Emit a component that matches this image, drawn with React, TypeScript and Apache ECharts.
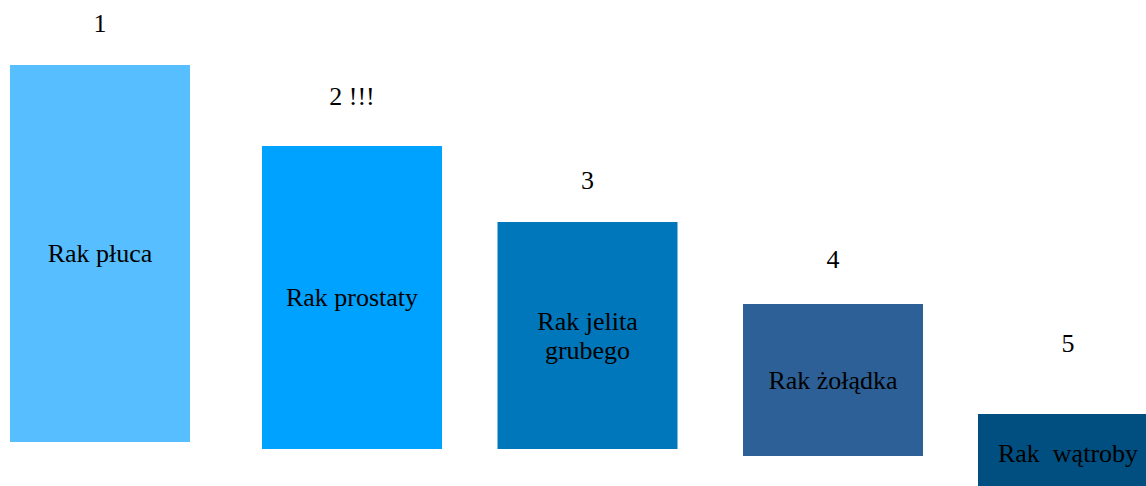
import React, { useEffect, useRef } from "react";
import * as echarts from "echarts";

const ranks = ["1", "2 !!!", "3", "4", "5"];
const names = ["Rak płuca", "Rak prostaty", "Rak jelita\ngrubego", "Rak żołądka", "Rak  wątroby"];
const centers = [100, 352, 587.5, 833, 1068];
const tops = [65, 146, 222, 304, 414];
const bottoms = [442, 449, 449, 456, 492];
const rankLevels = [23, 96, 180, 259, 343];
const colors = ["#57BFFF", "#00A2FF", "#0077BB", "#2D6096", "#004F80"];

const BAR_W = 180;
const FONT = '26px "Liberation Serif", "Times New Roman", serif';

export default function App() {
  const ref = useRef<HTMLDivElement>(null);
  useEffect(() => {
    if (!ref.current) return;
    const chart = echarts.init(ref.current, null, { renderer: "svg" });
    const data = centers.map((c, i) => [c, tops[i], bottoms[i], rankLevels[i]]);
    chart.setOption({
      animation: false,
      backgroundColor: "#ffffff",
      grid: { left: 0, right: 0, top: 0, bottom: 0 },
      xAxis: { type: "value", min: 0, max: 1146, show: false },
      yAxis: { type: "value", min: 0, max: 486, inverse: true, show: false },
      series: [
        {
          type: "custom",
          clip: false,
          data,
          renderItem: (params: any, api: any) => {
            const i = params.dataIndex;
            const x = api.value(0);
            const p1 = api.coord([x - BAR_W / 2, api.value(1)]);
            const p2 = api.coord([x + BAR_W / 2, api.value(2)]);
            const lbl = api.coord([x, api.value(3)]);
            return {
              type: "group",
              children: [
                {
                  type: "rect",
                  shape: { x: p1[0], y: p1[1], width: p2[0] - p1[0], height: p2[1] - p1[1] },
                  style: { fill: colors[i] },
                },
                {
                  type: "text",
                  x: (p1[0] + p2[0]) / 2,
                  y: (p1[1] + p2[1]) / 2,
                  style: {
                    text: names[i],
                    font: FONT,
                    fill: "#000000",
                    align: "center",
                    verticalAlign: "middle",
                    lineHeight: 29,
                  },
                },
                {
                  type: "text",
                  x: lbl[0],
                  y: lbl[1],
                  style: {
                    text: ranks[i],
                    font: FONT,
                    fill: "#000000",
                    align: "center",
                    verticalAlign: "middle",
                  },
                },
              ],
            };
          },
        },
      ],
    });
    return () => chart.dispose();
  }, []);
  return (
    <div
      ref={ref}
      style={{ position: "fixed", left: 0, top: 0, width: 1146, height: 486 }}
    />
  );
}
